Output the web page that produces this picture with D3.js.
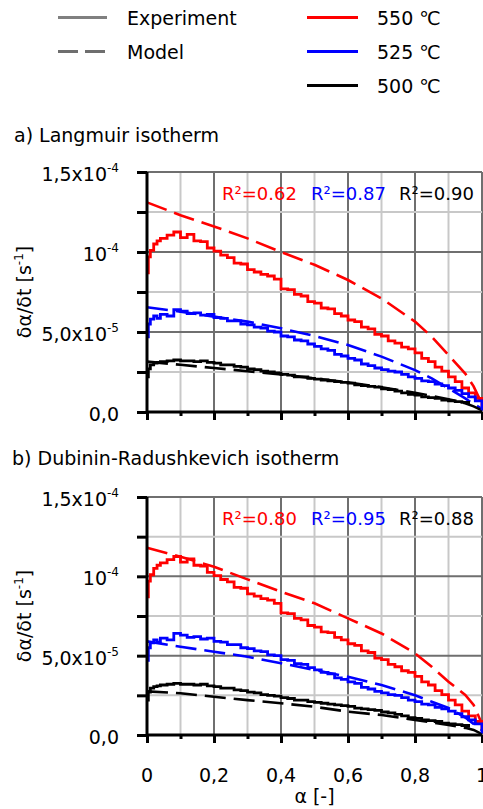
<!DOCTYPE html>
<html><head><meta charset="utf-8">
<script src="https://cdn.jsdelivr.net/npm/d3@7"></script>
<style>
body{margin:0;background:#fff;}
svg{display:block;font-family:"DejaVu Sans",Verdana,sans-serif;}
</style>
</head><body>
<svg id="c" width="483" height="809"></svg>
<script>
// ---------- data (rates in units of 1e-5 s^-1) ----------
const seriesNames = ["550 \u2103", "525 \u2103", "500 \u2103"];
const seriesColors = ["#ff0000", "#0000ff", "#000000"];

const expAlpha = [0, 0.004, 0.01, 0.02, 0.03, 0.04, 0.06, 0.08, 0.10, 0.12, 0.14, 0.16, 0.18, 0.20,
  0.22, 0.24, 0.26, 0.28, 0.30, 0.32, 0.34, 0.36, 0.38, 0.40, 0.42, 0.44, 0.46, 0.48, 0.50,
  0.52, 0.54, 0.56, 0.58, 0.60, 0.62, 0.64, 0.66, 0.68, 0.70, 0.72, 0.74, 0.76, 0.78, 0.80,
  0.82, 0.84, 0.86, 0.88, 0.90, 0.92, 0.94, 0.96, 0.98, 1.00];
const expRed = [8.7, 9.7, 10.1, 10.5, 10.7, 10.85, 11.05, 11.25, 10.9, 11.1, 10.7, 10.65, 10.25, 10.05,
  9.8, 9.65, 9.3, 9.25, 8.9, 8.75, 8.6, 8.5, 8.3, 7.7, 7.65, 7.35, 7.25, 6.9, 6.8,
  6.5, 6.45, 6.15, 6.0, 5.75, 5.65, 5.3, 5.2, 4.85, 4.75, 4.45, 4.3, 4.05, 3.95, 3.7,
  3.35, 3.15, 2.8, 2.55, 2.2, 1.9, 1.5, 1.2, 0.85, 0.35];
const expBlue = [4.7, 5.5, 5.8, 6.0, 5.85, 6.1, 6.0, 6.4, 6.3, 6.15, 6.2, 6.05, 6.1, 5.9,
  5.85, 5.7, 5.7, 5.5, 5.45, 5.3, 5.25, 5.05, 5.0, 4.75, 4.7, 4.5, 4.45, 4.25, 4.1,
  3.95, 3.85, 3.6, 3.5, 3.35, 3.25, 3.0, 2.9, 2.75, 2.65, 2.55, 2.5, 2.35, 2.2, 2.1,
  1.95, 1.9, 1.75, 1.65, 1.5, 1.35, 1.15, 0.95, 0.7, 0.1];
const expBlack = [2.2, 2.7, 2.95, 3.05, 3.1, 3.15, 3.2, 3.25, 3.2, 3.2, 3.15, 3.2, 3.1, 3.05,
  2.95, 2.95, 2.85, 2.8, 2.7, 2.65, 2.55, 2.5, 2.45, 2.35, 2.3, 2.2, 2.2, 2.1, 2.05,
  2.0, 1.95, 1.9, 1.85, 1.8, 1.7, 1.65, 1.6, 1.55, 1.45, 1.4, 1.3, 1.2, 1.1, 1.05,
  0.95, 0.9, 0.85, 0.75, 0.7, 0.65, 0.6, 0.45, null, null];

const modelAlpha = [0, 0.1, 0.2, 0.3, 0.4, 0.5, 0.6, 0.7, 0.8, 0.85, 0.9, 0.95, 0.975, 1.0];
const langRed   = [13.1, 12.3, 11.6, 10.85, 10.0, 9.2, 8.25, 7.1, 5.65, 4.7, 3.56, 2.4, 1.6, 0.5];
const langBlue  = [6.55, 6.27, 5.96, 5.65, 5.23, 4.75, 4.19, 3.46, 2.62, 2.1, 1.48, 0.85, 0.5, 0.2];
const langBlack = [3.15, 2.95, 2.75, 2.55, 2.35, 2.1, 1.85, 1.55, 1.2, 1.0, 0.8, 0.55, 0.35, 0.1];
const drRed     = [11.8, 11.24, 10.6, 9.81, 9.03, 8.3, 7.35, 6.4, 5.15, 4.3, 3.36, 2.52, 1.89, 0.7];
const drBlue    = [5.9, 5.56, 5.25, 4.93, 4.52, 4.1, 3.67, 3.15, 2.5, 2.1, 1.7, 1.1, 0.7, 0.3];
const drBlack   = [2.75, 2.63, 2.41, 2.2, 2.0, 1.78, 1.47, 1.26, 0.95, 0.8, 0.63, 0.45, 0.32, 0.05];

const r2Lang = ["0.62", "0.87", "0.90"];
const r2DR = ["0.80", "0.95", "0.88"];
const panelTitles = ["a) Langmuir isotherm", "b) Dubinin-Radushkevich isotherm"];

const xTicks = [0, 0.1, 0.2, 0.3, 0.4, 0.5, 0.6, 0.7, 0.8, 0.9, 1.0];
const xLabelVals = [0, 0.2, 0.4, 0.6, 0.8, 1.0];
const xLabels = ["0", "0,2", "0,4", "0,6", "0,8", "1"];
const yTicks = [0, 2.5, 5, 7.5, 10, 12.5, 15];
const yLabelVals = [0, 5, 10, 15];
const yLabelMain = ["0,0", "5,0x10", "10", "1,5x10"];
const yLabelSup = ["", "-5", "-4", "-4"];

// ---------- drawing ----------
const svg = d3.select("#c");
const x = d3.scaleLinear().domain([0, 1]).range([147, 482]);

// legend
const leg = svg.append("g");
leg.append("line").attr("x1", 58).attr("x2", 107).attr("y1", 17.5).attr("y2", 17.5)
  .attr("stroke", "#808080").attr("stroke-width", 3);
leg.append("line").attr("x1", 58).attr("x2", 107).attr("y1", 51.5).attr("y2", 51.5)
  .attr("stroke", "#6e6e6e").attr("stroke-width", 3).attr("stroke-dasharray", "20 7");
leg.append("text").attr("x", 127).attr("y", 24.5).attr("font-size", 19).text("Experiment");
leg.append("text").attr("x", 127).attr("y", 58.5).attr("font-size", 19).text("Model");
seriesNames.forEach((n, i) => {
  const yy = 17.5 + i * 34;
  leg.append("line").attr("x1", 307).attr("x2", 358).attr("y1", yy).attr("y2", yy)
    .attr("stroke", seriesColors[i]).attr("stroke-width", 3);
  leg.append("text").attr("x", 377).attr("y", yy + 7.5).attr("font-size", 19).text(n);
});

function panel(cfg) {
  const y = d3.scaleLinear().domain([0, 15]).range([cfg.bottom, cfg.top]);
  const g = svg.append("g");
  g.append("text").attr("x", cfg.titleX).attr("y", cfg.titleY).attr("font-size", 19).text(cfg.title);

  // grid
  xTicks.filter(v => v > 0).forEach(v => {
    const major = Math.round(v * 10) % 2 === 0;
    g.append("line").attr("x1", x(v)).attr("x2", x(v)).attr("y1", cfg.top).attr("y2", cfg.bottom)
      .attr("stroke", major ? "#6f6f6f" : "#c8c8c8").attr("stroke-width", 2);
  });
  yTicks.filter(v => v > 0).forEach(v => {
    const major = v % 5 === 0;
    g.append("line").attr("x1", x(0)).attr("x2", x(1)).attr("y1", y(v)).attr("y2", y(v))
      .attr("stroke", major ? "#6f6f6f" : "#c8c8c8").attr("stroke-width", 2);
  });

  // R2 texts
  cfg.r2.forEach((t, i) => {
    g.append("text").attr("x", [222, 311, 399][i]).attr("y", cfg.top + 28)
      .attr("font-size", 18).attr("fill", seriesColors[i]).text("R\u00b2=" + t);
  });

  const lineGen = d3.line().defined(d => d[1] !== null).x(d => x(d[0])).y(d => y(d[1]));
  const stepGen = d3.line().defined(d => d[1] !== null).x(d => x(d[0])).y(d => y(d[1]))
    .curve(d3.curveStepAfter);
  // models
  cfg.models.forEach((arr, i) => {
    g.append("path").datum(modelAlpha.map((a, k) => [a, arr[k]])).attr("d", lineGen)
      .attr("fill", "none").attr("stroke", seriesColors[i]).attr("stroke-width", 2.6)
      .attr("stroke-dasharray", "21 8");
  });
  // experiments
  [expRed, expBlack, expBlue].forEach((arr, j) => {
    const ci = [0, 2, 1][j];
    g.append("path").datum(expAlpha.map((a, k) => [a, arr[k]])).attr("d", stepGen)
      .attr("fill", "none").attr("stroke", seriesColors[ci]).attr("stroke-width", 2.8)
      .attr("stroke-linejoin", "miter");
  });

  // axes
  const ya = g.append("g").attr("transform", `translate(${x(0)},0)`)
    .call(d3.axisLeft(y).tickValues(yTicks).tickSize(10).tickFormat(""));
  ya.select(".domain").attr("stroke", "#000").attr("stroke-width", 3)
    .attr("d", `M0,${cfg.top}V${cfg.bottom}`);
  ya.selectAll(".tick line").attr("stroke", "#000").attr("stroke-width", 3);

  const xa = g.append("g").attr("transform", `translate(0,${cfg.bottom})`)
    .call(d3.axisBottom(x).tickValues(xTicks).tickSize(8).tickFormat(""));
  xa.select(".domain").attr("stroke", "#000").attr("stroke-width", 3)
    .attr("d", `M${x(0)},0H${x(1)}`);
  xa.selectAll(".tick line").attr("stroke", "#000").attr("stroke-width", 3)
    .attr("y2", d => (Math.round(d * 10) % 2 === 0 ? 8 : 4));

  // y labels
  yLabelVals.forEach((v, i) => {
    const t = g.append("text").attr("x", 119).attr("y", y(v) + 9).attr("text-anchor", "end")
      .attr("font-size", 19);
    t.append("tspan").text(yLabelMain[i]);
    if (yLabelSup[i]) t.append("tspan").attr("font-size", 12).attr("dy", -9).text(yLabelSup[i]);
  });
  // y title
  const cy = (cfg.top + cfg.bottom) / 2;
  const yt = g.append("text").attr("transform", `translate(31,${cy}) rotate(-90)`)
    .attr("text-anchor", "middle").attr("font-size", 19);
  yt.append("tspan").text("\u03b4\u03b1/\u03b4t [s");
  yt.append("tspan").attr("font-size", 12).attr("dy", -8).text("-1");
  yt.append("tspan").attr("dy", 8).text("]");

  if (cfg.showX) {
    xLabelVals.forEach((v, i) => {
      g.append("text").attr("x", x(v)).attr("y", cfg.bottom + 47).attr("text-anchor", "middle")
        .attr("font-size", 19).text(xLabels[i]);
    });
    g.append("text").attr("x", (x(0) + x(1)) / 2).attr("y", cfg.bottom + 68)
      .attr("text-anchor", "middle").attr("font-size", 19).text("\u03b1 [-]");
  }
}

panel({top: 172, bottom: 412, title: panelTitles[0], titleX: 14, titleY: 142,
  r2: r2Lang, models: [langRed, langBlue, langBlack], showX: false});
panel({top: 497, bottom: 735, title: panelTitles[1], titleX: 12, titleY: 465,
  r2: r2DR, models: [drRed, drBlue, drBlack], showX: true});
</script>
</body></html>
